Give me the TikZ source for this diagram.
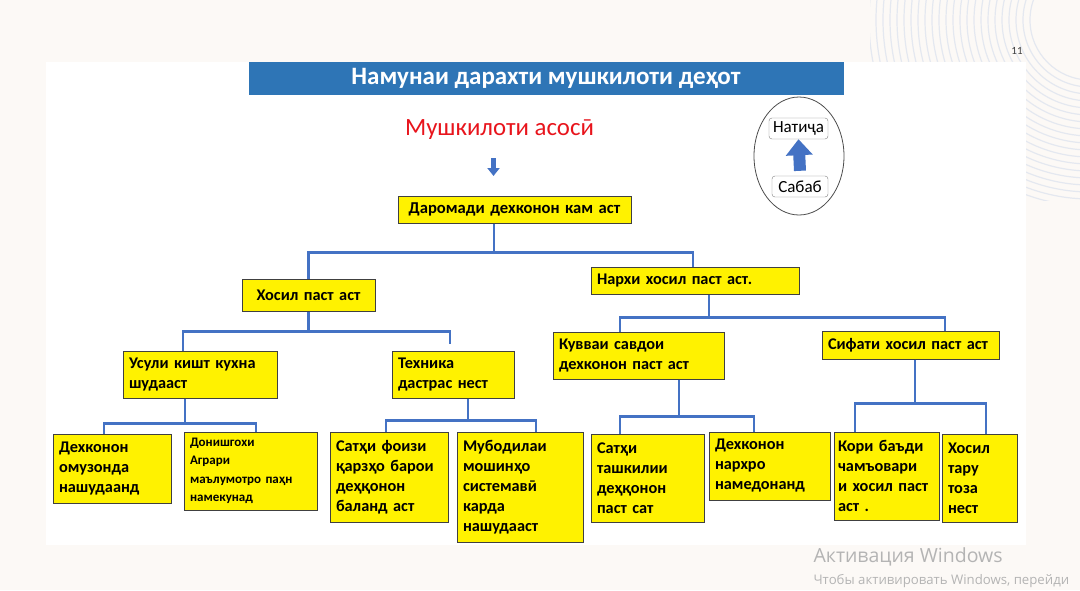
\documentclass[tikz,border=0pt]{standalone}
\usepackage{fontspec}
\setmainfont{Carlito}
\newfontfamily\wmfont{Open Sans}
\usepackage{xcolor}
\usepackage{tikz}
\usetikzlibrary{shapes.geometric, arrows.meta, positioning}

\definecolor{slidebg}{HTML}{FCF9F6}
\definecolor{barblue}{HTML}{2E75B6}
\definecolor{linkblue}{HTML}{4472C4}
\definecolor{boxedge}{HTML}{404040}
\definecolor{ringgray}{HTML}{E4E8F0}
\definecolor{probred}{HTML}{E8141C}
\definecolor{wmgray}{HTML}{B4B4B4}

\begin{document}
\begin{tikzpicture}[x=1pt, y=-1pt,
  prob/.style={draw=boxedge, fill=yellow, line width=1pt, align=left, inner xsep=6pt, inner ysep=2pt,
    font=\bfseries\fontsize{16.3}{20}\selectfont},
  link/.style={draw=linkblue, line width=2.6pt},
  tag/.style={draw=gray, rounded corners=3pt, minimum height=21pt, inner sep=1pt,
    font=\fontsize{17}{20}\selectfont}]
  \useasboundingbox (0,0) rectangle (1080,590);
  \fill[slidebg] (0,0) rectangle (1080,590);
  \begin{scope}
    \clip (870,0) rectangle (1080,200);
    \foreach \r in {60,67,...,235}
      \draw[ringgray, line width=1.2pt] (1090,20) circle[radius=\r];
  \end{scope}
  \fill[white] (46,62) rectangle (1026,545);

  \node[fill=barblue, minimum width=595pt, minimum height=33pt, inner sep=0pt, text=white,
    font=\bfseries\fontsize{25}{28}\selectfont] (title) at (546,78.5) {Намунаи дарахти мушкилоти деҳот};
  \node[anchor=base, text=probred, font=\fontsize{24.8}{28}\selectfont] (mainprob) at (499.5,135) {Мушкилоти асосӣ};
  \node[font=\fontsize{11}{13}\selectfont, text=darkgray] (pagenum) at (1017,51) {11};
  \coordinate (dntop) at (493.5,158);
  \coordinate (dnend) at (493.5,176);
  \draw[linkblue, line width=5pt, -{Triangle[length=8pt 0, width=12pt 0]}] (dntop) -- (dnend);

  \node[ellipse, draw=gray!60!black, line width=0.8pt, minimum width=90pt, minimum height=118pt] (legend) at (799,156) {};
  \node[tag, minimum width=59pt] (natija) at (798.5,128.5) {Натиҷа};
  \node[tag, minimum width=56pt] (sabab) at (800,186.5) {Сабаб};
  \draw[linkblue, line width=12pt, -{Triangle[length=16pt 0, width=26pt 0]}] ([yshift=5pt]sabab.north) -- (natija.south);

  \node[prob, align=center, text width=221pt, minimum height=27pt, font=\bfseries\fontsize{16.6}{20}\selectfont] (daromad) at (514.5,209.5) {Даромади дехконон кам аст};
  \node[prob, align=center, text width=121pt, minimum height=32pt] (hosil) at (308.5,295) {Хосил паст аст};
  \node[prob, text width=196pt, minimum height=27pt] (narkh) at (695,280.5) {Нархи хосил паст аст.};
  \node[prob, text width=142pt, minimum height=47pt] (usuli) at (200,374.5) {Усули кишт кухна\\шудааст};
  \node[prob, text width=110pt, minimum height=47pt] (tekhnika) at (453,374.5) {Техника\\дастрас нест};
  \node[prob, text width=159pt, minimum height=47pt] (quvvai) at (638.5,355.5) {Кувваи савдои\\дехконон паст аст};
  \node[prob, text width=165pt, minimum height=28pt] (sifati) at (910.5,345) {Сифати хосил паст аст};

  \node[prob, text width=106pt, minimum height=69pt] (dekhone) at (112,468.5) {Дехконон\\омузонда\\нашудаанд};
  \node[prob, text width=121pt, minimum height=78pt, font=\bfseries\fontsize{13}{18.5}\selectfont] (donish) at (250.5,471) {Донишгохи\\Аграри\\маълумотро паҳн\\намекунад};
  \node[prob, text width=106pt, minimum height=90pt] (satkhone) at (389,477) {Сатҳи фоизи\\қарзҳо барои\\деҳқонон\\баланд аст};
  \node[prob, text width=114pt, minimum height=110pt] (mubod) at (520,487) {Мубодилаи\\мошинҳо\\системавӣ\\карда\\нашудааст};
  \node[prob, text width=101pt, minimum height=88pt] (satkhtwo) at (647.5,478) {Сатҳи\\ташкилии\\деҳқонон\\паст сат};
  \node[prob, text width=109pt, minimum height=68pt] (dekhtwo) at (769.5,466) {Дехконон\\нархро\\намедонанд};
  \node[prob, inner xsep=4pt, text width=97pt, minimum height=88pt] (kori) at (886.5,476) {Кори баъди\\чамъовари\\и хосил паст\\аст .};
  \node[prob, text width=63pt, minimum height=88pt] (toza) at (979.5,478) {Хосил\\тару\\тоза\\нест};

  \coordinate (tekhgap) at (450,344);
  \draw[link] ([xshift=-20.5pt]daromad.south) -- ++(0,29) -| (hosil.north);
  \draw[link] ([xshift=-20.5pt]daromad.south) -- ++(0,29) -| ([xshift=-2pt]narkh.north);
  \draw[link] (hosil.south) -- ++(0,20) -| ([xshift=-17pt]usuli.north);
  \draw[link] (hosil.south) -- ++(0,20) -| (tekhgap);
  \draw[link] ([xshift=14pt]narkh.south) -- ++(0,23) -| ([xshift=-18.5pt]quvvai.north);
  \draw[link] ([xshift=14pt]narkh.south) -- ++(0,23) -| ([xshift=34.5pt]sifati.north);
  \draw[link] ([xshift=-15pt]usuli.south) -- ++(0,25) -| ([xshift=-8pt]dekhone.north);
  \draw[link] ([xshift=-15pt]usuli.south) -- ++(0,25) -| ([xshift=5.5pt]donish.north);
  \draw[link] ([xshift=15pt]tekhnika.south) -- ++(0,22) -| ([xshift=-3pt]satkhone.north);
  \draw[link] ([xshift=15pt]tekhnika.south) -- ++(0,22) -| ([xshift=16pt]mubod.north);
  \draw[link] ([xshift=40.5pt]quvvai.south) -- ++(0,37) -| ([xshift=-27.5pt]satkhtwo.north);
  \draw[link] ([xshift=40.5pt]quvvai.south) -- ++(0,37) -| ([xshift=-15.5pt]dekhtwo.north);
  \draw[link] ([xshift=4.5pt]sifati.south) -- ++(0,44) -| ([xshift=-31.5pt]kori.north);
  \draw[link] ([xshift=4.5pt]sifati.south) -- ++(0,44) -| ([xshift=6.5pt]toza.north);

  \node[anchor=base west, text=wmgray, font=\wmfont\fontsize{19.5}{24}\selectfont] (wmone) at (810,562) {Активация Windows};
  \node[anchor=base west, text=wmgray, font=\wmfont\fontsize{13.2}{16}\selectfont] (wmtwo) at (810,584) {Чтобы активировать Windows, перейди};
\end{tikzpicture}
\end{document}
